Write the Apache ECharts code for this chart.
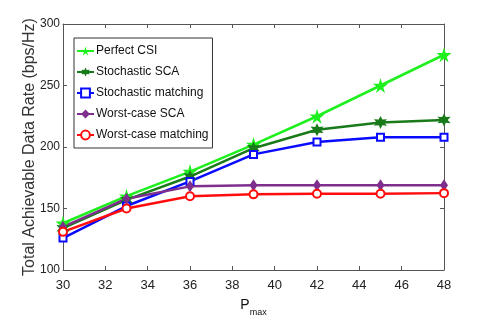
<!DOCTYPE html>
<html>
<head>
<meta charset="utf-8">
<script src="https://cdn.jsdelivr.net/npm/echarts@6/dist/echarts.min.js"></script>
<style>
  html, body { margin: 0; padding: 0; background: #fff; }
  #chart { width: 491px; height: 327px; }
</style>
</head>
<body>
<div id="chart"></div>
<script>
// P_max values (x axis)
var pmax = [30, 33, 36, 39, 42, 45, 48]

var perfectCsi = [138, 160, 180, 202, 225, 250, 275]
var stochasticSca = [134, 157, 176, 199, 214, 220, 222]
var stochasticMatching = [126, 152, 172, 194, 204, 208, 208]
var worstCaseSca = [135, 158, 168, 169, 169, 169, 169]
var worstCaseMatching = [131, 150, 160, 161.5, 162, 162, 162.5]

var seriesNames = ['Perfect CSI', 'Stochastic SCA', 'Stochastic matching', 'Worst-case SCA', 'Worst-case matching']

var font = "'Liberation Sans', Arial, sans-serif"
var frameColor = '#555'

var pentagram = 'path://M50,0 L61,35 L98,35 L68,57 L79,91 L50,70 L21,91 L32,57 L2,35 L39,35 Z'
var hexagram = 'path://M50,0 L62,28 L93,25 L75,50 L93,75 L62,72 L50,100 L38,72 L7,75 L25,50 L7,25 L38,28 Z'

function pairs (ys) {
  return pmax.map(function (x, i) { return [x, ys[i]] })
}

function makeSeries (name, ys, color, symbol, size, hollow) {
  return {
    name: name,
    type: 'line',
    data: pairs(ys),
    symbol: symbol,
    symbolSize: size,
    lineStyle: { color: color, width: 2.5 },
    itemStyle: { color: hollow ? '#fff' : color, borderColor: color, borderWidth: hollow ? 2 : 0 },
    emphasis: { disabled: true },
    z: 2
  }
}

var chart = echarts.init(document.getElementById('chart'))

var option = {
  animation: false,
  backgroundColor: '#fff',
  textStyle: { fontFamily: font },
  grid: { left: 63, right: 47, top: 24, bottom: 57 },
  legend: {
    orient: 'vertical',
    left: 74,
    top: 38,
    padding: [7, 4, 7, 2],
    itemGap: 9,
    itemWidth: 17,
    itemHeight: 11,
    borderColor: '#333',
    borderWidth: 1,
    backgroundColor: '#fff',
    textStyle: { fontFamily: font, fontSize: 12, color: '#111', padding: [0, 0, 0, -3] },
    data: seriesNames
  },
  xAxis: [
    {
      type: 'value',
      min: 30,
      max: 48,
      interval: 2,
      name: '{p|P}{s|max}',
      nameLocation: 'middle',
      nameGap: 24,
      nameMoveOverlap: false,
      nameTextStyle: {
        rich: {
          p: { fontFamily: font, fontSize: 14, color: '#111' },
          s: { fontFamily: font, fontSize: 9, color: '#111', padding: [14, 0, 0, 0] }
        }
      },
      axisLine: { lineStyle: { color: frameColor, width: 1 } },
      axisTick: { inside: true, length: 4, lineStyle: { color: frameColor } },
      axisLabel: { fontFamily: font, fontSize: 13, color: '#222', margin: 9 },
      splitLine: { show: false }
    },
    {
      type: 'value',
      position: 'top',
      min: 30,
      max: 48,
      interval: 2,
      axisLine: { lineStyle: { color: frameColor, width: 1 } },
      axisTick: { inside: true, length: 4, lineStyle: { color: frameColor } },
      axisLabel: { show: false },
      splitLine: { show: false }
    }
  ],
  yAxis: [
    {
      type: 'value',
      min: 100,
      max: 300,
      interval: 50,
      name: 'Total Achievable Data Rate (bps/Hz)',
      nameLocation: 'middle',
      nameGap: 25,
      nameMoveOverlap: false,
      nameTextStyle: { fontFamily: font, fontSize: 16, color: '#333' },
      axisLine: { show: true, lineStyle: { color: frameColor, width: 1 } },
      axisTick: { show: true, inside: true, length: 4, lineStyle: { color: frameColor } },
      axisLabel: { fontFamily: font, fontSize: 12, color: '#222', margin: 3 },
      splitLine: { show: false }
    },
    {
      type: 'value',
      position: 'right',
      min: 100,
      max: 300,
      interval: 50,
      axisLine: { show: true, lineStyle: { color: frameColor, width: 1 } },
      axisTick: { show: true, inside: true, length: 4, lineStyle: { color: frameColor } },
      axisLabel: { show: false },
      splitLine: { show: false }
    }
  ],
  series: [
    makeSeries(seriesNames[0], perfectCsi, '#1ef01e', pentagram, 15, false),
    makeSeries(seriesNames[1], stochasticSca, '#197a19', hexagram, 13, false),
    makeSeries(seriesNames[2], stochasticMatching, '#0a0aff', 'rect', 7, true),
    makeSeries(seriesNames[3], worstCaseSca, '#7e2f8e', 'diamond', [8, 12], false),
    makeSeries(seriesNames[4], worstCaseMatching, '#ff0d0d', 'circle', 8, true)
  ]
}

chart.setOption(option)
</script>
</body>
</html>
